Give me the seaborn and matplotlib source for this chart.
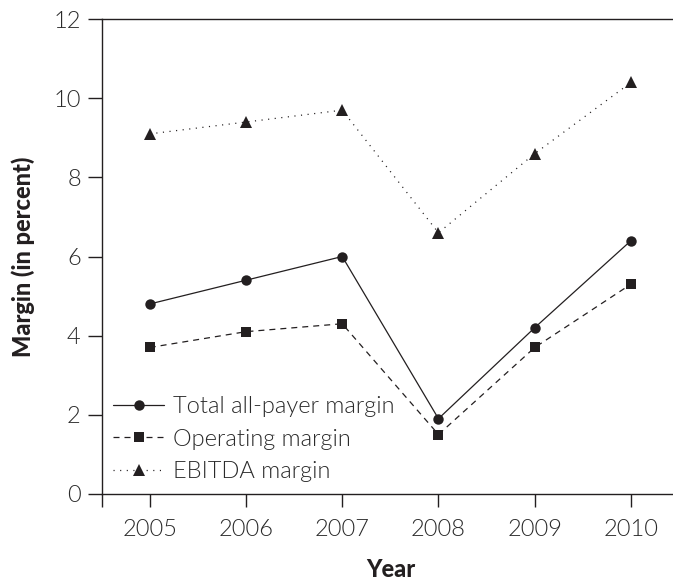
import numpy as np
import pandas as pd
import seaborn as sns
import matplotlib.pyplot as plt

years = [2005, 2006, 2007, 2008, 2009, 2010]
total_margin = [4.8, 5.4, 6.0, 1.9, 4.2, 6.4]
operating_margin = [3.7, 4.1, 4.3, 1.5, 3.7, 5.3]
ebitda_margin = [9.1, 9.4, 9.7, 6.6, 8.6, 10.4]
series_names = ["Total all-payer margin", "Operating margin", "EBITDA margin"]

df = pd.DataFrame({
    "Year": years * 3,
    "Margin": total_margin + operating_margin + ebitda_margin,
    "Series": [s for s in series_names for _ in years],
})

sns.set_style("ticks")
plt.rcParams['font.family'] = ['Lato', 'DejaVu Sans']
ink = "#231f20"
text_gray = "#2a2a2a"

fig = plt.figure(figsize=(6.73, 5.81), dpi=100)
ax = fig.add_axes([0.151, 0.150, 0.858, 0.817])

sns.lineplot(data=df, x="Year", y="Margin", hue="Series", style="Series",
             palette=[ink] * 3,
             markers={"Total all-payer margin": "o", "Operating margin": "s", "EBITDA margin": "^"},
             dashes={"Total all-payer margin": "", "Operating margin": (4.8, 4.0), "EBITDA margin": (0.9, 4.4)},
             markersize=7.5, linewidth=0.9, markeredgewidth=0, ax=ax)

ax.set_xlim(2004.5, 2010.5)
ax.set_ylim(0, 12)
ax.set_xticks([2004.5] + years)
ax.set_xticklabels([""] + [str(y) for y in years])
ax.set_yticks([0, 2, 4, 6, 8, 10, 12])

for side in ["left", "bottom", "top", "right"]:
    ax.spines[side].set_color(ink)
    ax.spines[side].set_linewidth(1.0)

ax.tick_params(axis="y", length=10, width=1.0, color=ink, pad=5, labelsize=17, labelcolor=text_gray)
ax.tick_params(axis="x", length=9, width=1.0, color=ink, pad=9, labelsize=17, labelcolor=text_gray)
for lab in ax.get_xticklabels() + ax.get_yticklabels():
    lab.set_fontweight(300)

ax.set_xlabel("Year", fontsize=17, fontweight="black", color=ink, labelpad=13)
ax.set_ylabel("Margin (in percent)", fontsize=17, fontweight="black", color=ink, labelpad=13)

for line in ax.lines:
    if line.get_marker() == "^":
        line.set_markersize(9)

leg = ax.legend(loc="lower left", frameon=False, fontsize=17, handlelength=2.15,
                handletextpad=0.38, labelspacing=0.48, borderaxespad=0.1)
for h in leg.legend_handles:
    if h.get_marker() == "^":
        h.set_markersize(9)
for t in leg.get_texts():
    t.set_color(text_gray)
    t.set_fontweight(300)

fig.savefig("out.png", dpi=100)
